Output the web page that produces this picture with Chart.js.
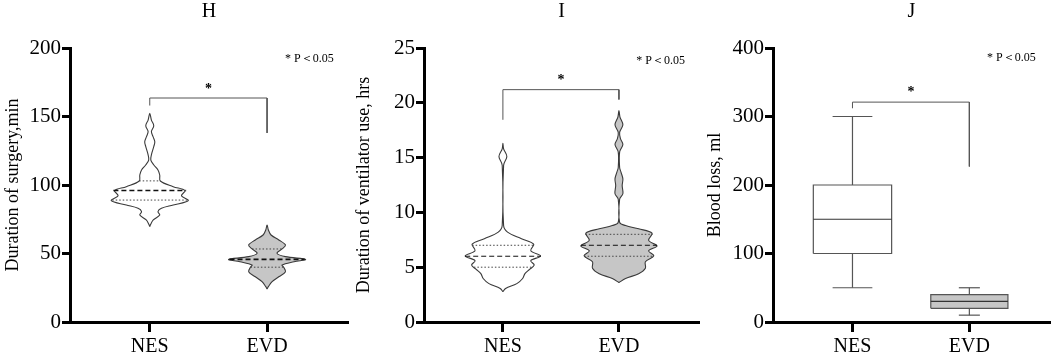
<!DOCTYPE html>
<html>
<head>
<meta charset="utf-8">
<script src="https://cdn.jsdelivr.net/npm/chart.js@4.4.1/dist/chart.umd.min.js"></script>
<style>
  html, body { margin: 0; padding: 0; background: #fff; }
  .panel { position: absolute; top: 0; width: 351px; height: 356px; }
</style>
</head>
<body>
<div class="panel" style="left:0"><canvas id="chartH" width="351" height="356"></canvas></div>
<div class="panel" style="left:351px"><canvas id="chartI" width="351" height="356"></canvas></div>
<div class="panel" style="left:702px"><canvas id="chartJ" width="351" height="356"></canvas></div>
<script>
const categories = ["NES", "EVD"];

// H - duration of surgery: violin outline (value, half width in category units)
const hNesLevels = [69.6, 71, 74.5, 78.1, 80.6, 83, 85.4, 88.6, 92.2, 95.9, 98.8, 102.9, 107.3, 111, 114.6, 118.2, 122, 128, 131.6, 135.3, 139, 143.3, 147.4, 152.3];
const hNesWidths = [0, 0.006, 0.03, 0.085, 0.07, 0.1, 0.2, 0.328, 0.27, 0.3, 0.2, 0.09, 0.085, 0.07, 0.035, 0.009, 0.014, 0.034, 0.043, 0.028, 0.014, 0.034, 0.014, 0];
const hNesQuart = [89, 96, 103];
const hNesQuartW = [0.32, 0.31, 0.09];
const hEvdLevels = [24.1, 25.8, 29.4, 33, 36.7, 39.9, 41.6, 44, 45.7, 47.7, 50.1, 53.3, 56.2, 59.9, 63.5, 67.2, 70.8];
const hEvdWidths = [0, 0.011, 0.043, 0.1, 0.157, 0.142, 0.128, 0.23, 0.328, 0.157, 0.085, 0.128, 0.157, 0.1, 0.034, 0.011, 0];
const hEvdQuart = [40, 45.7, 53.3];
const hEvdQuartW = [0.142, 0.32, 0.128];
const hBracket = [158, 163.5, 163.5, 138];

// I - duration of ventilator use
const iNesLevels = [2.76, 3.06, 3.5, 3.97, 4.42, 4.8, 5.2, 5.6, 6.03, 6.5, 7.1, 7.6, 8.2, 8.8, 14.3, 15.1, 15.8, 16.3];
const iNesWidths = [0, 0.023, 0.12, 0.17, 0.19, 0.23, 0.27, 0.24, 0.325, 0.24, 0.265, 0.16, 0.04, 0.006, 0.006, 0.034, 0.006, 0];
const iNesQuart = [5, 6, 7];
const iNesQuartW = [0.25, 0.325, 0.265];
const iEvdLevels = [3.6, 3.97, 4.4, 4.9, 5.5, 6.03, 6.5, 6.94, 7.45, 8.1, 8.5, 8.8, 9.1, 11.2, 11.7, 12.45, 13.06, 13.7, 14.1, 15.5, 16.2, 16.7, 17.3, 18.0, 18.7, 19.3];
const iEvdWidths = [0, 0.057, 0.17, 0.228, 0.228, 0.3, 0.256, 0.328, 0.256, 0.285, 0.17, 0.057, 0.006, 0.006, 0.034, 0.028, 0.034, 0.017, 0.006, 0.006, 0.034, 0.014, 0.006, 0.034, 0.009, 0];
const iEvdQuart = [6, 7, 8];
const iEvdQuartW = [0.3, 0.328, 0.29];
const iBracket = [18.45, 21.2, 21.2, 20.3];

// J - blood loss: min, q1, median, q3, max
const jNesBox = [50, 100, 150, 200, 300];
const jEvdBox = [10, 20, 30, 40, 50];
const jBracket = [312, 321, 321, 227];

const SERIF = "'Liberation Serif', 'Times New Roman', serif";
const OUTLINE = "#3a3a3a";
const GREY = "#c6c6c6";

function violinPath(center, levels, widths) {
  const right = levels.map((v, i) => ({ x: center + widths[i], y: v }));
  const left = levels.map((v, i) => ({ x: center - widths[i], y: v })).reverse();
  return right.concat(left.slice(1));
}

function violinSets(center, levels, widths, quart, quartW, fillColor, dashW) {
  const sets = [];
  quart.forEach((q, i) => {
    sets.push({
      data: [{ x: center - quartW[i], y: q }, { x: center + quartW[i], y: q }],
      borderColor: i === 1 ? "#111" : "#444",
      borderWidth: i === 1 ? dashW : 1,
      borderDash: i === 1 ? [5, 3] : [1.5, 2],
      pointRadius: 0, fill: false, tension: 0
    });
  });
  sets.push({
    data: violinPath(center, levels, widths),
    borderColor: OUTLINE, borderWidth: 1.1,
    backgroundColor: fillColor || "rgba(0,0,0,0)",
    fill: fillColor ? "shape" : false,
    pointRadius: 0, tension: 0.35
  });
  return sets;
}

function boxSets(center, box, halfW, capW, fillColor) {
  const [mn, q1, md, q3, mx] = box;
  const line = (pts, extra) => Object.assign({
    data: pts, borderColor: "#555", borderWidth: 1.2, pointRadius: 0, fill: false, tension: 0
  }, extra || {});
  return [
    line([{ x: center - halfW, y: md }, { x: center + halfW, y: md }], { borderColor: "#333" }),
    line([{ x: center, y: q3 }, { x: center, y: mx }]),
    line([{ x: center - capW, y: mx }, { x: center + capW, y: mx }]),
    line([{ x: center, y: q1 }, { x: center, y: mn }]),
    line([{ x: center - capW, y: mn }, { x: center + capW, y: mn }]),
    line([
      { x: center - halfW, y: q1 }, { x: center + halfW, y: q1 },
      { x: center + halfW, y: q3 }, { x: center - halfW, y: q3 },
      { x: center - halfW, y: q1 }
    ], { backgroundColor: fillColor || "rgba(0,0,0,0)", fill: fillColor ? "shape" : false })
  ];
}

function bracketSet(b) {
  return {
    data: [{ x: 1, y: b[0] }, { x: 1, y: b[1] }, { x: 2, y: b[2] }, { x: 2, y: b[3] }],
    borderColor: "#555", borderWidth: 1, pointRadius: 0, fill: false, tension: 0
  };
}

// draws panel letter, star and p-value note
const textPlugin = {
  id: "panelText",
  afterDraw(chart) {
    const o = chart.options.plugins.panelText;
    const { ctx, chartArea, scales } = chart;
    ctx.save();
    ctx.fillStyle = "#000";
    ctx.textAlign = "center";
    ctx.textBaseline = "middle";
    ctx.font = "20px " + SERIF;
    ctx.fillText(o.letter, (chartArea.left + chartArea.right) / 2, 12);
    ctx.font = "bold 14px " + SERIF;
    ctx.fillText("*", scales.x.getPixelForValue(1.5), scales.y.getPixelForValue(o.starY) + 3);
    ctx.font = "12px " + SERIF;
    ctx.fillText("* P\uFF1C0.05", scales.x.getPixelForValue(2.36), scales.y.getPixelForValue(o.noteY));
    ctx.restore();
  }
};

function makePanel(id, cfg) {
  new Chart(document.getElementById(id).getContext("2d"), {
    type: "line",
    data: { datasets: cfg.datasets },
    plugins: [textPlugin],
    options: {
      responsive: false,
      animation: false,
      events: [],
      layout: { padding: { top: 48, right: 3, left: 0, bottom: 0 } },
      plugins: {
        legend: { display: false },
        tooltip: { enabled: false },
        panelText: { letter: cfg.letter, starY: cfg.starY, noteY: cfg.noteY }
      },
      scales: {
        x: {
          type: "linear",
          min: 0.32, max: 2.69,
          afterBuildTicks: (s) => { s.ticks = [{ value: 1 }, { value: 2 }]; },
          afterFit: (s) => { s.height = 34; },
          ticks: {
            callback: (v) => categories[v - 1],
            color: "#000", padding: 3, maxRotation: 0, autoSkip: false,
            font: { family: SERIF, size: 20 }
          },
          grid: { drawOnChartArea: false, drawTicks: true, tickLength: 10, tickWidth: 3, tickColor: "#000" },
          border: { display: true, width: 3, color: "#000" }
        },
        y: {
          min: 0, max: cfg.yMax,
          afterFit: (s) => { s.width = cfg.axisW; },
          ticks: { stepSize: cfg.step, color: "#000", padding: 1, font: { family: SERIF, size: 21 } },
          grid: { drawOnChartArea: false, drawTicks: true, tickLength: 8, tickWidth: 3, tickColor: "#000" },
          border: { display: true, width: 3, color: "#000" },
          title: {
            display: true, text: cfg.yTitle, color: "#000",
            font: { family: SERIF, size: 18 }, padding: { top: 2, bottom: 2 }
          }
        }
      }
    }
  });
}

makePanel("chartH", {
  letter: "H", yMax: 200, step: 50, axisW: 70, starY: 172, noteY: 192,
  yTitle: "Duration of surgery,min",
  datasets: [
    bracketSet(hBracket),
    ...violinSets(1, hNesLevels, hNesWidths, hNesQuart, hNesQuartW, null, 1.6),
    ...violinSets(2, hEvdLevels, hEvdWidths, hEvdQuart, hEvdQuartW, GREY, 1.6)
  ]
});

makePanel("chartI", {
  letter: "I", yMax: 25, step: 5, axisW: 73, starY: 22.3, noteY: 23.8,
  yTitle: "Duration of ventilator use, hrs",
  datasets: [
    bracketSet(iBracket),
    ...violinSets(1, iNesLevels, iNesWidths, iNesQuart, iNesQuartW, null, 1),
    ...violinSets(2, iEvdLevels, iEvdWidths, iEvdQuart, iEvdQuartW, GREY, 1)
  ]
});

makePanel("chartJ", {
  letter: "J", yMax: 400, step: 100, axisW: 71, starY: 340, noteY: 385,
  yTitle: "Blood loss, ml",
  datasets: [
    bracketSet(jBracket),
    ...boxSets(1, jNesBox, 0.335, 0.17, null),
    ...boxSets(2, jEvdBox, 0.33, 0.09, GREY)
  ]
});
</script>
</body>
</html>
